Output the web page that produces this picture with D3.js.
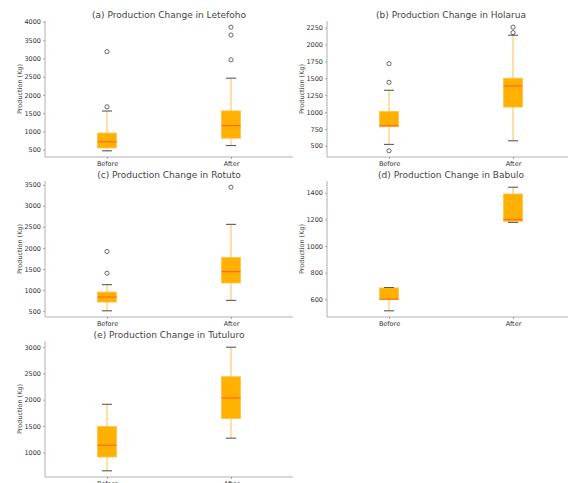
<!DOCTYPE html>
<html>
<head>
<meta charset="utf-8">
<script src="https://cdn.jsdelivr.net/npm/d3@7"></script>
<style>
  html, body { margin: 0; padding: 0; background: #fff; }
  svg { display: block; font-family: "DejaVu Sans", sans-serif; }
</style>
</head>
<body>
<svg id="chart" width="568" height="483"></svg>
<script>
// Groups on the x axis
const periods = ["Before", "After"];

// Panel titles
const titles = [
  "(a) Production Change in Letefoho",
  "(b) Production Change in Holarua",
  "(c) Production Change in Rotuto",
  "(d) Production Change in Babulo",
  "(e) Production Change in Tutuluro"
];

// Box statistics per panel: [lower whisker, Q1, median, Q3, upper whisker] for Before / After
const letefohoStats = [[470, 548, 715, 956, 1560], [615, 815, 1160, 1563, 2458]];
const holaruaStats  = [[521, 782, 797, 1010, 1322], [574, 1074, 1385, 1500, 2137]];
const rotutoStats   = [[507, 715, 834, 953, 1128], [755, 1168, 1438, 1772, 2560]];
const babuloStats   = [[514, 600, 601, 686, 689], [1178, 1186, 1199, 1391, 1442]];
const tutuluroStats = [[647, 910, 1134, 1491, 1913], [1268, 1644, 2035, 2438, 3000]];

// Outlying observations per panel for Before / After
const letefohoOutliers = [[1675, 3185], [2962, 3640, 3855]];
const holaruaOutliers  = [[426, 1440, 1716], [2176, 2256]];
const rotutoOutliers   = [[1400, 1916], [3443]];
const babuloOutliers   = [[], []];
const tutuluroOutliers = [[], []];

// Y tick values per panel
const letefohoTicks = [500, 1000, 1500, 2000, 2500, 3000, 3500, 4000];
const holaruaTicks  = [500, 750, 1000, 1250, 1500, 1750, 2000, 2250];
const rotutoTicks   = [500, 1000, 1500, 2000, 2500, 3000, 3500];
const babuloTicks   = [600, 800, 1000, 1200, 1400];
const tutuluroTicks = [1000, 1500, 2000, 2500, 3000];

const yLabel = "Production (Kg)";

const panels = [
  { title: titles[0], stats: letefohoStats, outliers: letefohoOutliers, ticks: letefohoTicks, col: 0, row: 0 },
  { title: titles[1], stats: holaruaStats,  outliers: holaruaOutliers,  ticks: holaruaTicks,  col: 1, row: 0 },
  { title: titles[2], stats: rotutoStats,   outliers: rotutoOutliers,   ticks: rotutoTicks,   col: 0, row: 1 },
  { title: titles[3], stats: babuloStats,   outliers: babuloOutliers,   ticks: babuloTicks,   col: 1, row: 1 },
  { title: titles[4], stats: tutuluroStats, outliers: tutuluroOutliers, ticks: tutuluroTicks, col: 0, row: 2 }
];

// Grid geometry
const colLeft = [45, 327];
const rowBottom = [157, 317, 477];
const axW = 248, axH = 136;

const boxFill = "#FFB000", boxEdge = "#FFC443", medianColor = "#FF6A2A";
const whiskerColor = "#FFD58A", capColor = "#5a5a5a", spineColor = "#b0b0b0";

const svg = d3.select("#chart");

panels.forEach(p => {
  const left = colLeft[p.col];
  const bottom = rowBottom[p.row];
  const top = bottom - axH;
  const g = svg.append("g").attr("transform", `translate(${left},${top})`);

  // y range padded by 5% of the data span on both ends
  const all = p.stats.flat().concat(p.outliers.flat());
  const [lo, hi] = d3.extent(all);
  const pad = (hi - lo) * 0.05;
  const y = d3.scaleLinear().domain([lo - pad, hi + pad]).range([axH, 0]);
  const x = d3.scalePoint().domain(periods).range([0, axW]).padding(0.5);

  // Axes
  const yAxis = d3.axisLeft(y).tickValues(p.ticks).tickSize(2).tickPadding(2).tickFormat(d3.format("d"));
  const gy = g.append("g").call(yAxis);
  const xAxis = d3.axisBottom(x).tickSize(2).tickPadding(2);
  const gx = g.append("g").attr("transform", `translate(0,${axH})`).call(xAxis);
  [gx, gy].forEach(a => {
    a.select(".domain").attr("stroke", spineColor).attr("stroke-width", 1);
    a.selectAll(".tick line").attr("stroke", "#777").attr("stroke-width", 0.6);
    a.selectAll(".tick text").attr("fill", "#333").style("font-size", "6.5px")
      .style("font-family", "'DejaVu Sans', sans-serif");
  });
  gy.select(".domain").attr("d", `M0,0V${axH}`);
  gx.select(".domain").attr("d", `M0,0H${axW}`);

  // Title
  g.append("text")
    .attr("x", axW / 2).attr("y", -3)
    .attr("text-anchor", "middle")
    .attr("fill", "#444")
    .style("font-size", "9px")
    .text(p.title);

  // Y axis label
  g.append("text")
    .attr("transform", `translate(-25,${axH / 2}) rotate(-90)`)
    .attr("text-anchor", "middle")
    .attr("dominant-baseline", "middle")
    .attr("fill", "#444")
    .style("font-size", "6.5px")
    .text(yLabel);

  const boxW = 19, capW = 10;

  periods.forEach((per, i) => {
    const [wLo, q1, med, q3, wHi] = p.stats[i];
    const cx = x(per);
    const grp = g.append("g");

    // Whiskers
    grp.append("line").attr("x1", cx).attr("x2", cx).attr("y1", y(wLo)).attr("y2", y(q1))
      .attr("stroke", whiskerColor).attr("stroke-width", 1.5);
    grp.append("line").attr("x1", cx).attr("x2", cx).attr("y1", y(q3)).attr("y2", y(wHi))
      .attr("stroke", whiskerColor).attr("stroke-width", 1.5);

    // Box
    grp.append("rect")
      .attr("x", cx - boxW / 2).attr("width", boxW)
      .attr("y", y(q3)).attr("height", Math.max(0.5, y(q1) - y(q3)))
      .attr("fill", boxFill).attr("stroke", boxEdge).attr("stroke-width", 0.8);

    // Median
    grp.append("line").attr("x1", cx - boxW / 2).attr("x2", cx + boxW / 2)
      .attr("y1", y(med)).attr("y2", y(med))
      .attr("stroke", medianColor).attr("stroke-width", 1.2);

    // Caps
    [wLo, wHi].forEach(v => {
      grp.append("line").attr("x1", cx - capW / 2).attr("x2", cx + capW / 2)
        .attr("y1", y(v)).attr("y2", y(v))
        .attr("stroke", capColor).attr("stroke-width", 1.1);
    });

    // Outliers
    grp.selectAll("circle.out").data(p.outliers[i]).enter().append("circle")
      .attr("class", "out")
      .attr("cx", cx).attr("cy", d => y(d)).attr("r", 2.1)
      .attr("fill", "none").attr("stroke", "#444").attr("stroke-width", 0.8);
  });
});
</script>
</body>
</html>
